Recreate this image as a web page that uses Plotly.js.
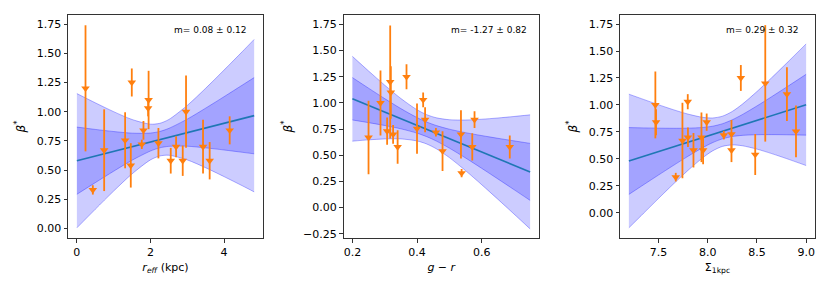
<!DOCTYPE html>
<html>
<head>
<meta charset="utf-8">
<script src="https://cdn.plot.ly/plotly-3.0.1.min.js"></script>
<style>html,body{margin:0;padding:0;background:#fff;}#chart{width:830px;height:291px;}</style>
</head>
<body>
<div id="chart"></div>
<script>
// ---- data ----
const BETA     = [1.20,0.33,0.67,0.755,0.54,1.25,0.72,0.84,1.03,1.10,0.73,0.58,0.70,0.58,1.00,0.70,0.58,0.84];
const BETA_ERR = [0.54,0.04,0.35,0.24,0.19,0.12,0.04,0.08,0.07,0.25,0.13,0.11,0.09,0.13,0.31,0.23,0.16,0.12];
const REFF     = [0.235,0.434,0.742,1.312,1.466,1.493,1.765,1.81,1.937,1.95,2.217,2.552,2.697,2.878,2.968,3.43,3.61,4.154];
const GR       = [0.317,0.538,0.250,0.400,0.479,0.3675,0.4585,0.578,0.419,0.319,0.3075,0.687,0.326,0.571,0.287,0.536,0.340,0.425];
const SIGMA    = [8.585,7.676,7.744,8.897,8.483,8.337,8.164,7.99,7.798,8.805,8.242,8.242,7.80,7.954,7.469,7.937,7.856,7.476];

// fit lines
const FIT1_X = [0, 4.82],  FIT1_Y = [0.58, 0.966];
const FIT2_X = [0.2, 0.75], FIT2_Y = [1.04, 0.3415];
const FIT3_X = [7.2, 9.0], FIT3_Y = [0.48, 1.002];

// confidence bands
const BAND1_X   = [0,0.5,1.0,1.5,2.0,2.25,2.5,3.0,3.5,4.0,4.5,4.82];
const BAND1_IN_HI  = [0.868,0.848,0.830,0.816,0.817,0.83,0.857,0.936,1.03,1.128,1.228,1.292];
const BAND1_IN_LO  = [0.292,0.392,0.490,0.584,0.663,0.69,0.703,0.704,0.69,0.672,0.652,0.639];
const BAND1_OUT_HI = [1.155,1.076,1.00,0.933,0.893,0.90,0.933,1.053,1.20,1.356,1.515,1.619];
const BAND1_OUT_LO = [0.005,0.164,0.32,0.467,0.587,0.62,0.627,0.587,0.52,0.444,0.365,0.313];

const BAND2_X   = [0.2,0.25,0.3,0.35,0.4,0.43,0.46,0.5,0.55,0.6,0.65,0.7,0.75];
const BAND2_IN_HI  = [1.2425,1.141,1.0414,0.946,0.8604,0.8179,0.7839,0.7494,0.7162,0.6882,0.6624,0.6378,0.6138];
const BAND2_IN_LO  = [0.8375,0.812,0.7846,0.753,0.7116,0.6779,0.6357,0.5686,0.4748,0.3758,0.2746,0.1722,0.0692];
const BAND2_OUT_HI = [1.445,1.3055,1.1698,1.0425,0.9348,0.8879,0.858,0.8398,0.8369,0.8444,0.8563,0.8706,0.8861];
const BAND2_OUT_LO = [0.635,0.6475,0.6562,0.6565,0.6372,0.6079,0.5616,0.4782,0.3541,0.2196,0.0807,-0.0606,-0.2031];

const BAND3_X   = [7.2,7.35,7.5,7.65,7.8,7.95,8.05,8.15,8.25,8.35,8.5,8.65,8.8,9.0];
const BAND3_IN_HI  = [0.7899,0.787,0.7846,0.7834,0.7846,0.7912,0.8028,0.8255,0.8621,0.9094,0.9903,1.0764,1.1647,1.284];
const BAND3_IN_LO  = [0.1701,0.26,0.3494,0.4376,0.5234,0.6038,0.6502,0.6855,0.7069,0.7176,0.7237,0.7246,0.7233,0.72];
const BAND3_OUT_HI = [1.0998,1.051,1.0022,0.9563,0.9152,0.8849,0.8791,0.8955,0.9397,1.0053,1.1236,1.2523,1.3854,1.566];
const BAND3_OUT_LO = [-0.1398,-0.004,0.1318,0.2647,0.3928,0.5101,0.5739,0.6155,0.6293,0.6217,0.5904,0.5487,0.5026,0.438];

const SLOPE_TEXT = ['m= 0.08 ± 0.12', 'm= -1.27 ± 0.82', 'm= 0.29 ± 0.32'];

// ---- styles ----
const FILL = 'rgba(0,0,255,0.2)';
const EDGE = 'rgba(0,0,255,0.3)';
const ORANGE = '#ff7f0e';
const BLUE = '#1f77b4';

function panel(xa, ya, bx, inHi, inLo, outHi, outLo, fx, fy, px) {
  const edge = {color: EDGE, width: 1, shape: 'spline', smoothing: 0.8};
  return [
    {x: bx, y: outLo, xaxis: xa, yaxis: ya, mode: 'lines', line: edge, hoverinfo: 'skip', showlegend: false},
    {x: bx, y: outHi, xaxis: xa, yaxis: ya, mode: 'lines', line: edge, fill: 'tonexty', fillcolor: FILL, hoverinfo: 'skip', showlegend: false},
    {x: bx, y: inLo, xaxis: xa, yaxis: ya, mode: 'lines', line: edge, hoverinfo: 'skip', showlegend: false},
    {x: bx, y: inHi, xaxis: xa, yaxis: ya, mode: 'lines', line: edge, fill: 'tonexty', fillcolor: FILL, hoverinfo: 'skip', showlegend: false},
    {x: fx, y: fy, xaxis: xa, yaxis: ya, mode: 'lines', line: {color: BLUE, width: 1.6}, showlegend: false},
    {x: px, y: BETA, xaxis: xa, yaxis: ya, mode: 'markers', showlegend: false,
     marker: {symbol: 'triangle-down', size: 7.5, color: ORANGE, line: {width: 0}},
     error_y: {type: 'data', array: BETA_ERR, visible: true, color: ORANGE, thickness: 1.8, width: 0}}
  ];
}

const data = [].concat(
  panel('x', 'y', BAND1_X, BAND1_IN_HI, BAND1_IN_LO, BAND1_OUT_HI, BAND1_OUT_LO, FIT1_X, FIT1_Y, REFF),
  panel('x2', 'y2', BAND2_X, BAND2_IN_HI, BAND2_IN_LO, BAND2_OUT_HI, BAND2_OUT_LO, FIT2_X, FIT2_Y, GR),
  panel('x3', 'y3', BAND3_X, BAND3_IN_HI, BAND3_IN_LO, BAND3_OUT_HI, BAND3_OUT_LO, FIT3_X, FIT3_Y, SIGMA)
);

const FONT = {family: 'DejaVu Sans', size: 11, color: '#000'};
const YFONT = {family: 'DejaVu Sans', size: 12, color: '#000'};
function ax(extra) {
  return Object.assign({
    showline: true, mirror: true, linecolor: '#333', linewidth: 1,
    ticks: 'outside', ticklen: 3.5, tickwidth: 1, tickcolor: '#333',
    showgrid: false, zeroline: false, tickfont: FONT, automargin: false
  }, extra);
}
const YD = [1 - 238/291, 1 - 15/291];
const YTITLE = '<i>β</i><sup>*</sup>';

const layout = {
  width: 830, height: 291,
  margin: {l: 0, r: 0, t: 0, b: 0},
  paper_bgcolor: '#fff', plot_bgcolor: '#fff',
  font: FONT,
  showlegend: false,
  xaxis:  ax({domain: [68/830, 263/830], anchor: 'y', range: [-0.241, 5.06], tickvals: [0, 2, 4],
               title: {text: '<i>r</i><sub><i>eff</i></sub> (kpc)', font: FONT, standoff: 5}}),
  yaxis:  ax({domain: YD, anchor: 'x', range: [-0.082, 1.828], tickvals: [0,0.25,0.5,0.75,1,1.25,1.5,1.75], tickformat: '.2f',
               title: {text: YTITLE, font: YFONT, standoff: 8}}),
  xaxis2: ax({domain: [343.5/830, 539/830], anchor: 'y2', range: [0.1725, 0.7775], tickvals: [0.2, 0.4, 0.6], tickformat: '.1f',
               title: {text: '<i>g</i> − <i>r</i>', font: FONT, standoff: 5}}),
  yaxis2: ax({domain: YD, anchor: 'x2', range: [-0.29, 1.84], tickvals: [-0.25,0,0.25,0.5,0.75,1,1.25,1.5,1.75], tickformat: '.2f',
               title: {text: YTITLE, font: YFONT, standoff: 7}}),
  xaxis3: ax({domain: [620/830, 815/830], anchor: 'y3', range: [7.11, 9.09], tickvals: [7.5, 8.0, 8.5, 9.0], tickformat: '.1f',
               title: {text: 'Σ<sub>1kpc</sub>', font: FONT, standoff: 5}}),
  yaxis3: ax({domain: YD, anchor: 'x3', range: [-0.234, 1.834], tickvals: [0,0.25,0.5,0.75,1,1.25,1.5,1.75], tickformat: '.2f',
               title: {text: YTITLE, font: YFONT, standoff: 8}}),
  annotations: [
    {text: SLOPE_TEXT[0], xref: 'x domain', yref: 'y domain', x: 0.928, y: 0.933, xanchor: 'right', yanchor: 'middle', showarrow: false, font: {family: 'DejaVu Sans', size: 9, color: '#000'}},
    {text: SLOPE_TEXT[1], xref: 'x2 domain', yref: 'y2 domain', x: 0.949, y: 0.933, xanchor: 'right', yanchor: 'middle', showarrow: false, font: {family: 'DejaVu Sans', size: 9, color: '#000'}},
    {text: SLOPE_TEXT[2], xref: 'x3 domain', yref: 'y3 domain', x: 0.928, y: 0.933, xanchor: 'right', yanchor: 'middle', showarrow: false, font: {family: 'DejaVu Sans', size: 9, color: '#000'}}
  ]
};

Plotly.newPlot('chart', data, layout, {staticPlot: true, displayModeBar: false});
</script>
</body>
</html>
